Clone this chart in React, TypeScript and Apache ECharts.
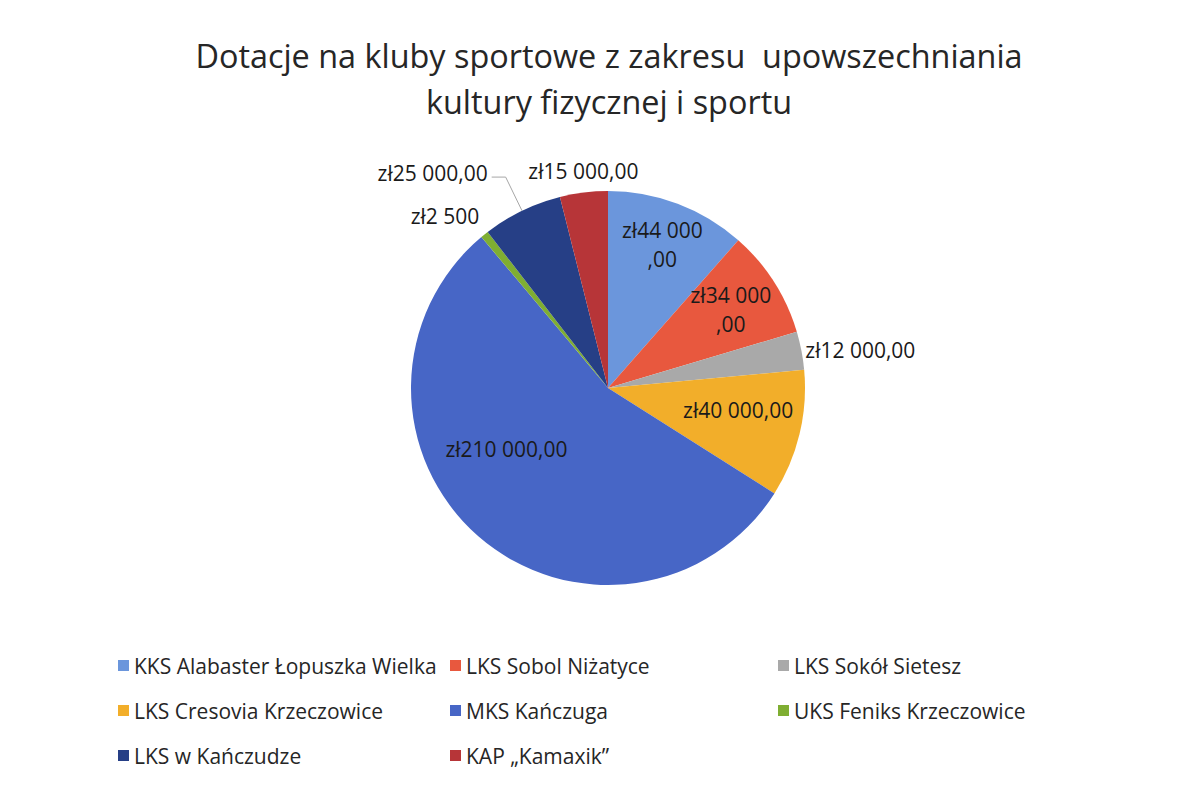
import React, { useEffect, useRef } from "react";
import * as echarts from "echarts";

const categories = [
  "KKS Alabaster Łopuszka Wielka",
  "LKS Sobol Niżatyce",
  "LKS Sokół Sietesz",
  "LKS Cresovia Krzeczowice",
  "MKS Kańczuga",
  "UKS Feniks Krzeczowice",
  "LKS w Kańczudze",
  "KAP „Kamaxik”",
];
const values = [44000, 34000, 12000, 40000, 210000, 2500, 25000, 15000];
const showDecimals = [true, true, true, true, true, false, true, true];
const wrapLabel = [true, true, false, false, false, false, false, false];

const colors = ["#6b96dc", "#e8583e", "#a9a9a9", "#f2ae2a", "#4766c6", "#7fae32", "#263f86", "#b73538"];

// label placement (polar, relative to pie centre): radius factor, angle shift (deg), align
const labelRadius = [0.78, 0.74, 1.02, 0.67, 0.6, 1.09, 1.19, 1.11];
const labelShift = [0, 0, 0, -4, 18, 2, 0, 0.6];
const labelAlign = ["center", "center", "left", "center", "center", "right", "right", "center"];

const CX = 608;
const CY = 388;
const R = 197;
const FONT = "'Open Sans', 'Noto Sans', sans-serif";

function fmt(v: number, dec: boolean) {
  const s = String(v).replace(/\B(?=(\d{3})+(?!\d))/g, " ");
  return "zł" + s + (dec ? ",00" : "");
}

export default function App() {
  const ref = useRef<HTMLDivElement>(null);
  useEffect(() => {
    if (!ref.current) return;
    const chart = echarts.init(ref.current, null, { renderer: "svg" });
    const total = values.reduce((a, b) => a + b, 0);
    const mids: number[] = [];
    let cum = 0;
    values.forEach((v) => {
      mids.push(((cum + v / 2) / total) * 360);
      cum += v;
    });
    const polar = (f: number, deg: number) => {
      const a = (deg * Math.PI) / 180;
      return [CX + R * f * Math.sin(a), CY - R * f * Math.cos(a)];
    };
    const data = values.map((v, i) => ({
      name: categories[i],
      value: v,
      itemStyle: { color: colors[i] },
      labelLine: { show: i === 6 },
    }));
    const legendItem = (idx: number[], left: number) => ({
      orient: "vertical",
      left,
      top: 650,
      itemGap: 24,
      itemWidth: 11,
      itemHeight: 11,
      icon: "rect",
      data: idx.map((i) => categories[i]),
      textStyle: { fontFamily: FONT, fontSize: 21, color: "#262626" },
      selectedMode: false,
    });
    chart.setOption({
      animation: false,
      backgroundColor: "#ffffff",
      title: {
        text: "Dotacje na kluby sportowe z zakresu  upowszechniania\nkultury fizycznej i sportu",
        left: 604,
        top: 27,
        textAlign: "center",
        textStyle: {
          fontFamily: FONT,
          fontSize: 32.4,
          fontWeight: "normal",
          color: "#262626",
          lineHeight: 46,
        },
      },
      legend: [legendItem([0, 3, 6], 113), legendItem([1, 4, 7], 445), legendItem([2, 5], 773)],
      series: [
        {
          type: "pie",
          center: [CX, CY],
          radius: [0, R],
          startAngle: 90,
          clockwise: true,
          avoidLabelOverlap: false,
          data,
          label: {
            show: true,
            position: "outside",
            fontFamily: FONT,
            fontSize: 21,
            color: "#1a1a1a",
            lineHeight: 29,
            formatter: (p: any) => {
              const i = p.dataIndex;
              const s = fmt(values[i], showDecimals[i]);
              if (wrapLabel[i]) return s.replace(/,00$/, "\n,00");
              return s;
            },
          },
          labelLine: { show: false, lineStyle: { color: "#a6a6a6", width: 1 }, length: 10, length2: 10 },
          emphasis: { disabled: true },
          labelLayout: (p: any) => {
            const i = p.dataIndex;
            const deg = mids[i] + labelShift[i];
            const [x, y] = polar(labelRadius[i], deg);
            if (i === 6) {
              const p0 = polar(1.0, mids[i]);
              const p1 = polar(1.19, mids[i]);
              const p2 = [p1[0] - 14, p1[1]];
              return {
                x: p2[0] - 4,
                y: p2[1] - 4,
                align: "right",
                verticalAlign: "middle",
                labelLinePoints: [p0, p1, p2],
              };
            }
            return { x, y, align: labelAlign[i], verticalAlign: "middle" };
          },
        },
      ],
    });
    return () => chart.dispose();
  }, []);
  return (
    <div
      ref={ref}
      style={{ position: "fixed", left: 0, top: 0, width: 1193, height: 786, background: "#fff" }}
    />
  );
}
